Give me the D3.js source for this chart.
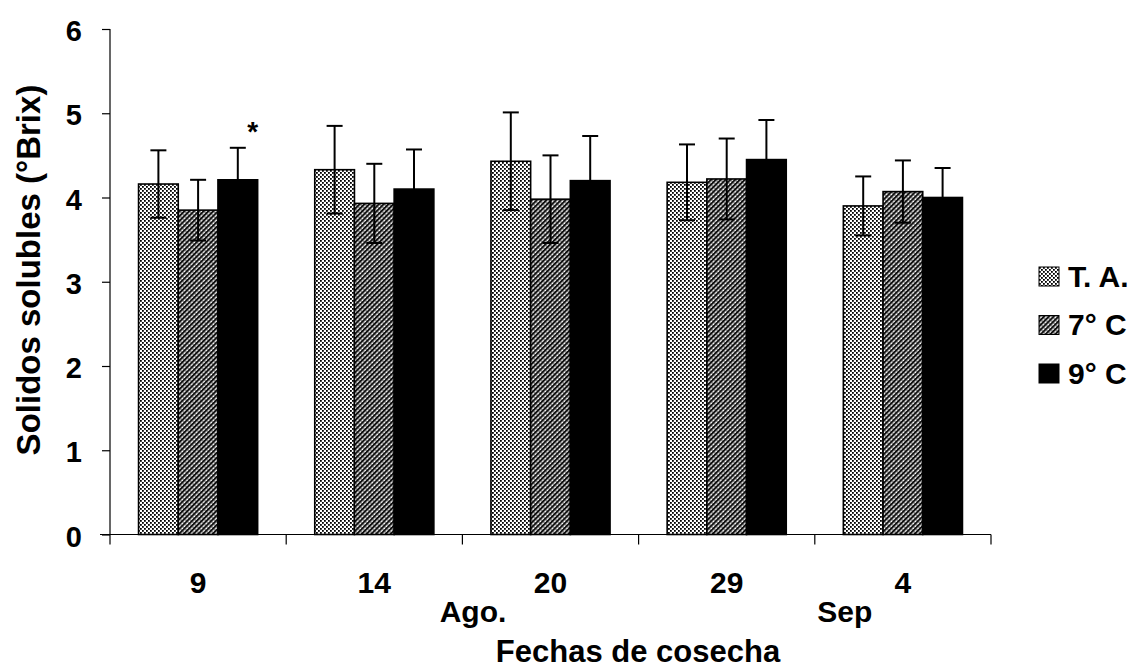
<!DOCTYPE html>
<html>
<head>
<meta charset="utf-8">
<script src="https://cdn.jsdelivr.net/npm/d3@7"></script>
<style>
  body { margin: 0; background: #fff; }
  svg text { font-family: "Liberation Sans", Arial, sans-serif; font-weight: bold; fill: #000; }
</style>
</head>
<body>
<div id="chart"></div>
<script>
// Data
const dates = ['9', '14', '20', '29', '4'];
const series = ['T. A.', '7° C', '9° C'];
const taValues = [4.16, 4.33, 4.43, 4.18, 3.90];
const taErrors = [0.40, 0.52, 0.58, 0.45, 0.35];
const c7Values = [3.85, 3.93, 3.98, 4.22, 4.07];
const c7Errors = [0.36, 0.47, 0.52, 0.48, 0.37];
const c9Values = [4.21, 4.10, 4.20, 4.45, 4.00];
const c9Errors = [0.38, 0.47, 0.53, 0.47, 0.35];
const yTicks = [0, 1, 2, 3, 4, 5, 6];
// month label sits part-way between two date labels
const monthLabels = [{ text: 'Ago.', from: '14', to: '20', at: 0.56 }, { text: 'Sep', from: '29', to: '4', at: 0.67 }];

const values = [taValues, c7Values, c9Values];
const errors = [taErrors, c7Errors, c9Errors];
const fills = ['url(#patTA)', 'url(#pat7)', '#000'];

const W = 1136, H = 670;
const svg = d3.select('#chart').append('svg').attr('width', W).attr('height', H);

// Patterns for the scanned-look fills
const defs = svg.append('defs');
const pTA = defs.append('pattern').attr('id', 'patTA')
  .attr('patternUnits', 'userSpaceOnUse').attr('width', 4).attr('height', 4);
pTA.append('rect').attr('width', 4).attr('height', 4).attr('fill', '#fff');
pTA.append('rect').attr('x', 0).attr('y', 0).attr('width', 1.8).attr('height', 1.8).attr('fill', '#000');
pTA.append('rect').attr('x', 2).attr('y', 2).attr('width', 1.8).attr('height', 1.8).attr('fill', '#000');

const p7 = defs.append('pattern').attr('id', 'pat7')
  .attr('patternUnits', 'userSpaceOnUse').attr('width', 3.4).attr('height', 3.4)
  .attr('patternTransform', 'rotate(-45)');
p7.append('rect').attr('width', 3.4).attr('height', 3.4).attr('fill', '#fff');
p7.append('rect').attr('x', 0).attr('y', 0).attr('width', 3.4).attr('height', 2).attr('fill', '#111');
p7.append('rect').attr('x', 1.2).attr('y', 2).attr('width', 1).attr('height', 1.4).attr('fill', '#444');

const x = d3.scaleBand().domain(dates).range([110, 991]);
const y = d3.scaleLinear().domain([0, 6]).range([534.5, 29]);
const barW = 39.7;
const groupW = barW * series.length;
const mid = d => x(d) + x.bandwidth() / 2;

// Axes
const yAxis = svg.append('g').attr('transform', 'translate(110,0)')
  .call(d3.axisLeft(y).tickValues(yTicks).tickSize(8).tickPadding(20).tickFormat(d3.format('d')));
yAxis.select('.domain').attr('stroke', '#000').attr('stroke-width', 1.2).attr('d', `M0,${y(6)}V${y(0) + 10}`);
yAxis.selectAll('.tick line').attr('stroke', '#000').attr('stroke-width', 1.2);
yAxis.selectAll('.tick text').attr('font-size', 29).attr('fill', '#000').attr('dy', '0.4em');

const xAxis = svg.append('g').attr('transform', `translate(0,${y(0)})`);
xAxis.append('line').attr('x1', 100).attr('x2', x.range()[1]).attr('y1', 0).attr('y2', 0)
  .attr('stroke', '#000').attr('stroke-width', 1.2);
const boundaries = dates.map(d => x(d) + x.bandwidth());
xAxis.selectAll('.xt').data(boundaries).enter().append('line')
  .attr('x1', d => d).attr('x2', d => d).attr('y1', 0).attr('y2', 10)
  .attr('stroke', '#000').attr('stroke-width', 1.2);
xAxis.selectAll('.xl').data(dates).enter().append('text')
  .attr('x', mid).attr('y', 58.5)
  .attr('text-anchor', 'middle').attr('font-size', 30).text(d => d);

svg.selectAll('.month').data(monthLabels).enter().append('text')
  .attr('x', d => mid(d.from) + (mid(d.to) - mid(d.from)) * d.at)
  .attr('y', 622).attr('text-anchor', 'middle').attr('font-size', 30).text(d => d.text);

svg.append('text').attr('x', 638).attr('y', 662)
  .attr('text-anchor', 'middle').attr('font-size', 31).text('Fechas de cosecha');

svg.append('text').attr('transform', 'translate(40,270) rotate(-90)')
  .attr('text-anchor', 'middle').attr('font-size', 33).text('Solidos solubles (°Brix)');

// Bars and error bars
series.forEach((s, si) => {
  const g = svg.append('g');
  const bx = d => mid(d) - groupW / 2 + si * barW;
  g.selectAll('rect').data(dates).enter().append('rect')
    .attr('x', d => bx(d)).attr('width', barW)
    .attr('y', (d, i) => y(values[si][i]))
    .attr('height', (d, i) => y(0) - y(values[si][i]))
    .attr('fill', fills[si]).attr('stroke', '#000').attr('stroke-width', 1.6);
  const cx = d => bx(d) + barW / 2;
  g.selectAll('.stem').data(dates).enter().append('line')
    .attr('x1', cx).attr('x2', cx)
    .attr('y1', (d, i) => y(values[si][i] + errors[si][i]))
    .attr('y2', (d, i) => y(values[si][i] - errors[si][i]))
    .attr('stroke', '#000').attr('stroke-width', 2);
  [1, -1].forEach(sign => {
    g.selectAll('.cap' + sign).data(dates).enter().append('line')
      .attr('x1', d => cx(d) - 8).attr('x2', d => cx(d) + 8)
      .attr('y1', (d, i) => y(values[si][i] + sign * errors[si][i]))
      .attr('y2', (d, i) => y(values[si][i] + sign * errors[si][i]))
      .attr('stroke', '#000').attr('stroke-width', 2);
  });
});

// Significance mark over the first 9° C bar
svg.append('text')
  .attr('x', mid(dates[0]) + groupW / 2 - 5)
  .attr('y', y(c9Values[0] + c9Errors[0]) - 7)
  .attr('text-anchor', 'middle').attr('font-size', 28).text('*');

// Legend
const legend = svg.append('g').attr('transform', 'translate(1039,267)');
series.forEach((s, i) => {
  const row = legend.append('g').attr('transform', `translate(0,${i * 48.5})`);
  row.append('rect').attr('width', 20).attr('height', 19)
    .attr('fill', fills[i]).attr('stroke', '#000').attr('stroke-width', 1);
  row.append('text').attr('x', 29).attr('y', 19.5).attr('font-size', 30).text(s);
});
</script>
</body>
</html>
